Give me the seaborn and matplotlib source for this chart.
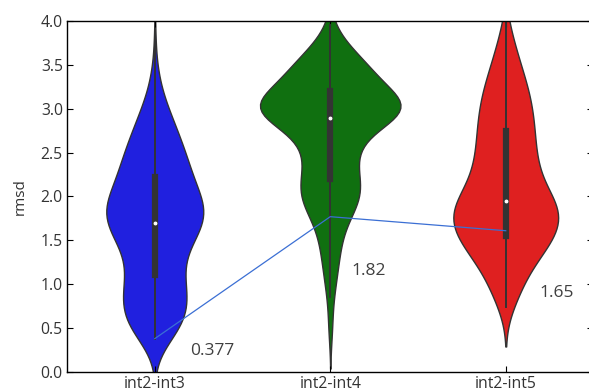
import numpy as np
import pandas as pd
import matplotlib
matplotlib.use("Agg")
import matplotlib.pyplot as plt
import seaborn as sns

# categories on the x axis
pairs = ["int2-int3", "int2-int4", "int2-int5"]
colors = ["b", "g", "r"]

# rmsd samples, stored as (value, count)
int3_vals = [0.38, 0.5, 0.6, 0.7, 0.8, 0.9, 1.0, 1.1, 1.2, 1.3, 1.4, 1.5, 1.6, 1.7,
             1.8, 1.9, 2.0, 2.1, 2.2, 2.3, 2.4, 2.5, 2.6, 2.7, 2.8, 2.9, 3.0, 3.1,
             3.2, 3.3, 3.4, 3.5, 3.6, 3.8, 3.9]
int3_counts = [24, 27, 30, 31, 31, 30, 28, 26, 23, 24, 29, 34, 42, 48,
               51, 49, 42, 37, 33, 33, 31, 28, 25, 22, 19, 16, 12, 9,
               6, 4, 3, 2, 1, 1, 1]

int4_vals = [0.45, 0.6, 0.86, 1.0, 1.1, 1.2, 1.3, 1.4, 1.5, 1.6, 1.7, 1.8, 1.9, 2.0,
             2.1, 2.2, 2.3, 2.4, 2.5, 2.6, 2.7, 2.8, 2.9, 3.0, 3.1, 3.2, 3.3, 3.4,
             3.5, 3.6, 3.7, 3.8, 3.9, 3.95]
int4_counts = [2, 2, 3, 3, 3, 4, 4, 5, 5, 6, 7, 10, 14, 16,
               18, 13, 12, 12, 12, 13, 15, 20, 24, 74, 30, 22, 23, 23,
               20, 14, 9, 4, 2, 1]

int5_vals = [0.74, 0.85, 0.95, 1.05, 1.15, 1.25, 1.35, 1.45, 1.55, 1.65, 1.75, 1.85,
             1.95, 2.05, 2.15, 2.25, 2.35, 2.45, 2.55, 2.65, 2.75, 2.85, 2.95, 3.05,
             3.15, 3.25, 3.35, 3.45, 3.55, 3.65, 3.75, 3.85, 4.0]
int5_counts = [5, 6, 7, 8, 10, 13, 16, 21, 23, 24, 27, 27,
               24, 18, 16, 15, 14, 14, 13, 13, 13, 13, 12, 12,
               11, 10, 9, 7, 6, 5, 4, 3, 2]

# thin blue line joining the three pairs, with its labels
line_y = [0.38, 1.77, 1.61]
line_labels = ["0.377", "1.82", "1.65"]

frames = []
for name, vals, counts in [(pairs[0], int3_vals, int3_counts),
                           (pairs[1], int4_vals, int4_counts),
                           (pairs[2], int5_vals, int5_counts)]:
    frames.append(pd.DataFrame({"pair": name, "rmsd": np.repeat(vals, counts)}))
df = pd.concat(frames, ignore_index=True)

plt.rcParams["font.family"] = ["Open Sans", "DejaVu Sans"]

fig = plt.figure(figsize=(5.89, 3.91), dpi=100)
ax = fig.add_axes([0.1138, 0.0486, 0.8938, 0.8977])

sns.violinplot(data=df, x="pair", y="rmsd", hue="pair", order=pairs, hue_order=pairs,
               palette=colors, saturation=0.75, bw_method=0.3, inner="box",
               common_norm=True, density_norm="area",
               inner_kws=dict(box_width=4.5, whis_width=1.4, marker="."),
               linecolor="#333333", linewidth=1, legend=False, ax=ax)

ax.plot(range(len(pairs)), line_y, color="#3b6fd4", lw=0.9)
text_pos = [(0.2, 0.24), (1.12, 1.15), (2.19, 0.9)]
for (tx, ty), lab in zip(text_pos, line_labels):
    ax.text(tx, ty, lab, ha="left", va="center", fontsize=12.5, color="#404040")

ax.set_ylim(0, 4)
ax.set_xlim(-0.5, 2.5)
ax.set_yticks(np.arange(0, 4.01, 0.5))
ax.set_yticklabels([f"{v:.1f}" for v in np.arange(0, 4.01, 0.5)])
ax.set_xlabel("")
ax.set_ylabel("rmsd", fontsize=11, color="#333333", labelpad=9)
ax.tick_params(direction="in", top=True, right=True, length=4, labelsize=11.3,
               labelcolor="#333333", pad=3)
for sp in ax.spines.values():
    sp.set_color("black")
    sp.set_linewidth(1)

fig.savefig("out.png", dpi=100)
